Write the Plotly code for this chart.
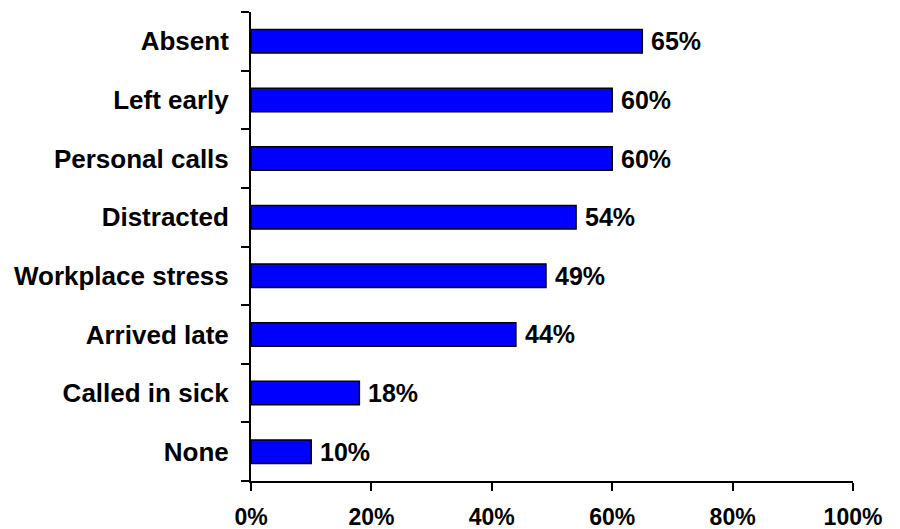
import plotly.graph_objects as go

categories = ["Absent", "Left early", "Personal calls", "Distracted",
              "Workplace stress", "Arrived late", "Called in sick", "None"]
values = [65, 60, 60, 54, 49, 44, 18, 10]
tick_vals = [0, 20, 40, 60, 80, 100]
tick_text = ["0%", "20%", "40%", "60%", "80%", "100%"]

font = "Liberation Sans, Arial, sans-serif"

cats = categories[::-1]
vals = values[::-1]

fig = go.Figure(go.Bar(
    x=vals, y=cats, orientation="h",
    marker=dict(color="#0000FF", line=dict(color="black", width=1.5)),
    width=0.4,
))

for c, v in zip(cats, vals):
    fig.add_annotation(
        x=v, y=c, xref="x", yref="y", text=f"{v}%", showarrow=False,
        xanchor="left", yanchor="middle", xshift=7,
        font=dict(family=font, size=25, color="black", weight="bold"),
    )

fig.update_layout(
    width=900, height=529,
    margin=dict(l=251, r=47, t=12, b=48),
    paper_bgcolor="white", plot_bgcolor="white",
    showlegend=False,
    font=dict(family=font, size=24, color="black", weight="bold"),
    bargap=0.6,
)
fig.update_xaxes(
    range=[0, 100], tickvals=tick_vals, ticktext=tick_text,
    showline=True, linecolor="black", linewidth=2,
    ticks="outside", ticklen=8, tickwidth=2, tickcolor="black",
    showgrid=False, zeroline=False, ticklabelstandoff=6, automargin=False,
    tickfont=dict(family=font, size=23, color="black", weight="bold"),
)
fig.update_yaxes(
    type="category", tickson="boundaries",
    showline=True, linecolor="black", linewidth=2,
    ticks="outside", ticklen=8, tickwidth=2, tickcolor="black",
    showgrid=False, zeroline=False, ticklabelstandoff=15, automargin=False,
    tickfont=dict(family=font, size=26, color="black", weight="bold"),
)

fig.write_html("out.html")
